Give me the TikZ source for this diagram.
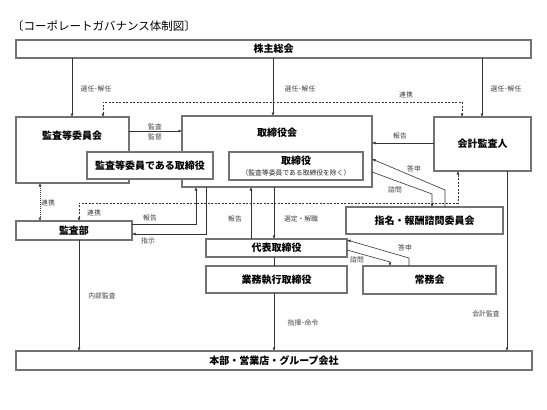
\documentclass[tikz,border=0pt]{standalone}
\usepackage{fontspec}
\usetikzlibrary{arrows.meta}
\newfontfamily\jp{Noto Sans CJK JP}
\setmainfont{Noto Sans CJK JP}
\begin{document}
\begin{tikzpicture}[x=1pt,y=-1pt,
  box/.style={draw=black!55,line width=1.8pt,fill=white,inner sep=0pt,outer sep=0pt,font=\jp\bfseries\fontsize{10}{12}\selectfont},
  btxt/.style={font=\jp\bfseries\fontsize{10}{12}\selectfont,inner sep=0pt},
  lbl/.style={font=\jp\fontsize{6.8}{7.5}\selectfont,text=black!75,inner sep=0pt},
  arr/.style={draw=black!80,line width=0.6pt,-{Latex[length=3.5pt,width=3pt]}},
  ln/.style={draw=black!80,line width=0.6pt},
  dsh/.style={draw=black!80,line width=0.6pt,dash pattern=on 2pt off 1.5pt,{Latex[length=3.5pt,width=3pt]}-{Latex[length=3.5pt,width=3pt]}},
  dot/.style={draw=black!80,line width=0.6pt,dash pattern=on 1pt off 1pt,{Latex[length=3.5pt,width=3pt]}-{Latex[length=3.5pt,width=3pt]}}]
\useasboundingbox[fill=white] (0,0) rectangle (547,410);

\node[anchor=west,font=\jp\fontsize{11.5}{13}\selectfont,inner sep=0pt] (title) at (12,26) {〔コーポレートガバナンス体制図〕};

% boxes
\node[box,minimum width=515pt,minimum height=18pt] (sh) at (273.5,49) {株主総会};
\node[box,minimum width=113pt,minimum height=66pt] (ac) at (72.5,150) {};
\node[btxt] (actxt) at (72,136) {監査等委員会};
\node[box,minimum width=190pt,minimum height=71pt] (bd) at (277,151.5) {};
\node[btxt] (bdtxt) at (277,133) {取締役会};
\node[box,minimum width=126pt,minimum height=27pt] (acd) at (150,165.5) {監査等委員である取締役};
\node[box,minimum width=134pt,minimum height=28pt] (dir) at (296,166) {};
\node[btxt] (dirtxt) at (296,161) {取締役};
\node[lbl,text=black!85] (dirsub) at (296,172.5) {（監査等委員である取締役を除く）};
\node[box,minimum width=97pt,minimum height=54pt] (ca) at (482.5,144) {会計監査人};
\node[box,minimum width=116pt,minimum height=19pt] (ia) at (74,230.5) {監査部};
\node[box,minimum width=157pt,minimum height=27pt] (nc) at (424.5,220.5) {指名・報酬諮問委員会};
\node[box,minimum width=141pt,minimum height=18pt] (rep) at (276.5,248) {代表取締役};
\node[box,minimum width=141pt,minimum height=27pt] (exe) at (276.5,279.5) {業務執行取締役};
\node[box,minimum width=133pt,minimum height=28pt] (jm) at (429.5,280) {常務会};
\node[box,minimum width=516pt,minimum height=19pt] (hq) at (274,360.5) {本部・営業店・グループ会社};

% helper coordinates
\coordinate (x72) at (72,0);
\coordinate (x273) at (273,0);
\coordinate (x482) at (482,0);
\coordinate (d1) at (103,102);
\coordinate (d2) at (462,102);
\coordinate (y131) at (0,131);
\coordinate (y143) at (0,143);
\coordinate (n1) at (445,190);
\coordinate (y159) at (0,159);
\coordinate (y172) at (0,172);
\coordinate (n2) at (432,194);
\coordinate (e1) at (79,203);
\coordinate (e2) at (458,203);
\coordinate (x40) at (40,0);
\coordinate (r1) at (196,224);
\coordinate (r2) at (206,234);
\coordinate (x251) at (251,0);
\coordinate (x274) at (274,0);
\coordinate (x507) at (507,0);
\coordinate (j1) at (409,258);
\coordinate (y240) at (0,240);
\coordinate (y250) at (0,250);
\coordinate (j2) at (390,262);

% connectors
\draw[arr] (sh.south -| x72) -- (ac.north -| x72);
\draw[arr] (sh.south -| x273) -- (bd.north -| x273);
\draw[arr] (sh.south -| x482) -- (ca.north -| x482);
\draw[dsh] (ac.north -| d1) -- (d1) -- (d2) -- (ca.north -| d2);
\draw[arr] (ac.east |- y131) -- (bd.west |- y131);
\draw[arr] (ca.west |- y143) -- (bd.east |- y143);
\draw[arr] (nc.north -| n1) -- (n1) -- (bd.east |- y159);
\draw[arr] (bd.east |- y172) -- (n2) -- (nc.north -| n2);
\draw[dsh] (ia.north -| e1) -- (e1) -- (e2) -- (ca.south -| e2);
\draw[dot] (ac.south -| x40) -- (ia.north -| x40);
\draw[arr] (ia.east |- r1) -- (r1) -- (bd.south -| r1);
\draw[arr] (bd.south -| r2) -- (r2) -- (ia.east |- r2);
\draw[arr] (rep.north -| x251) -- (bd.south -| x251);
\draw[arr] (bd.south -| x274) -- (rep.north -| x274);
\draw[ln] (rep.south -| x274) -- (exe.north -| x274);
\draw[arr] (exe.south -| x274) -- (hq.north -| x274);
\draw[arr] (ia.south -| e1) -- (hq.north -| e1);
\draw[arr] (ca.south -| x507) -- (hq.north -| x507);
\draw[arr] (jm.north -| j1) -- (j1) -- (rep.east |- y240);
\draw[arr] (rep.east |- y250) -- (j2) -- (jm.north -| j2);

% labels
\node[lbl] (l1) at (96,89) {選任･解任};
\node[lbl] (l2) at (300,89) {選任･解任};
\node[lbl] (l3) at (506,89) {選任･解任};
\node[lbl] (l4) at (406,95) {連携};
\node[lbl] (l5) at (155,126.5) {監査};
\node[lbl] (l6) at (155,137) {監督};
\node[lbl] (l7) at (400,136) {報告};
\node[lbl] (l8) at (414,169) {答申};
\node[lbl] (l9) at (395,190) {諮問};
\node[lbl] (l10) at (48,203) {連携};
\node[lbl] (l11) at (94,213) {連携};
\node[lbl] (l12) at (150,218) {報告};
\node[lbl] (l13) at (148,241) {指示};
\node[lbl] (l14) at (235,219) {報告};
\node[lbl] (l15) at (301,219) {選定・解職};
\node[lbl] (l16) at (405,248) {答申};
\node[lbl] (l17) at (357,260) {諮問};
\node[lbl] (l18) at (102,296) {内部監査};
\node[lbl] (l19) at (303,323) {指揮･命令};
\node[lbl] (l20) at (486,314) {会計監査};
\end{tikzpicture}
\end{document}
